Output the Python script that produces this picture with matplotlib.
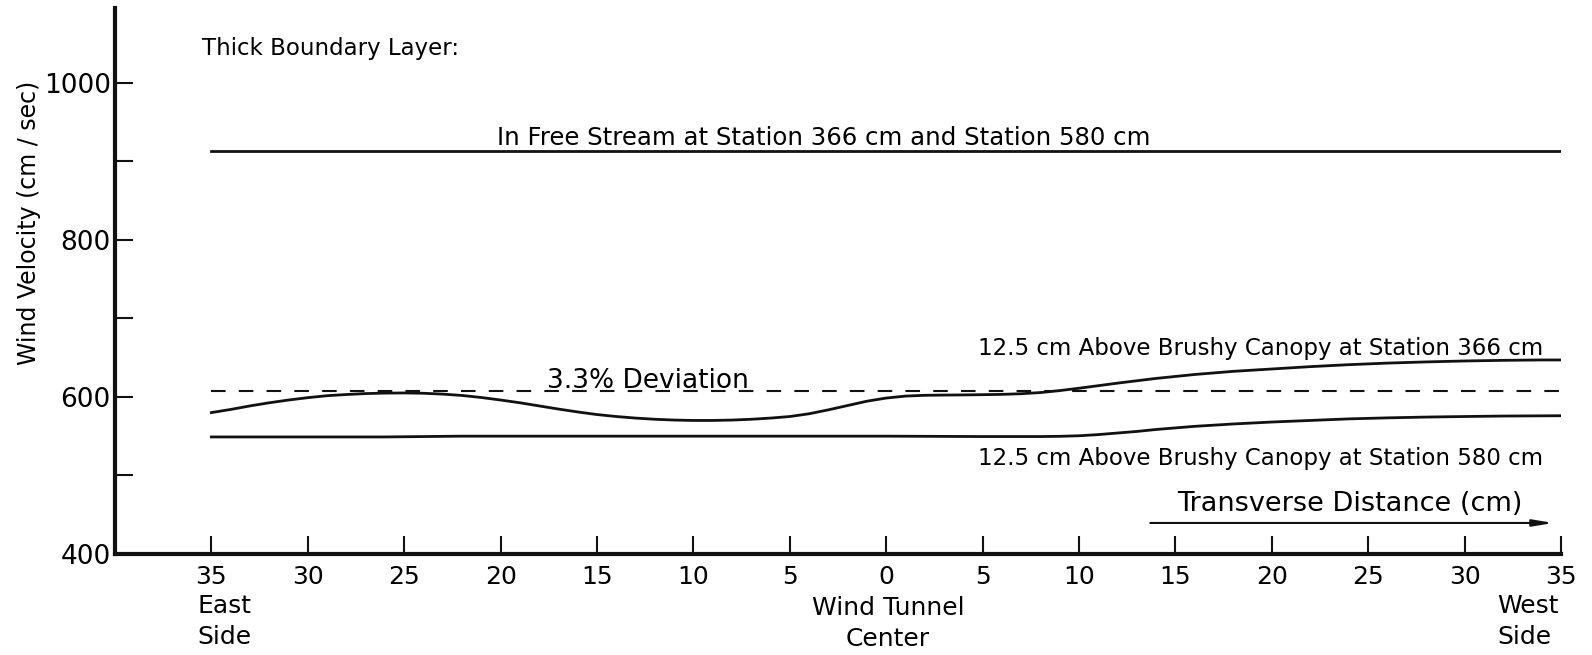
import numpy as np
import matplotlib.pyplot as plt

# transverse position, cm (east side negative, west side positive)
x_upper = [-35, -34, -33, -32, -31, -30, -29, -28, -27, -26, -25, -24, -23,
           -22, -21, -20, -19, -18, -17, -16, -15, -14, -13, -12, -11, -10,
           -9, -8, -7, -6, -5, -4, -3, -2, -1, 0, 1, 2, 3, 4, 5, 6, 7, 8, 9,
           10, 12, 14, 16, 18, 20, 22, 24, 26, 28, 30, 32, 34, 35]
# 12.5 cm above brushy canopy, station 366 cm
v_upper = [580, 584, 588.5, 592.5, 596, 599, 601.5, 603, 604.2, 604.8, 605,
           604.6, 603.5, 601.8, 599.2, 596, 592.5, 588.5, 584.5, 580.8, 577.5,
           575, 573, 571.5, 570.5, 570, 570, 570.5, 571.5, 573, 575, 578.5,
           583.5, 589, 594.5, 598.5, 601, 602, 602.3, 602.5, 602.8, 603.2,
           604, 605.5, 608, 611, 617.5, 623.5, 628.5, 632.5, 635.5, 638.5,
           641, 643, 644.5, 645.7, 646.5, 647, 647]

x_lower = [-35, -30, -26, -24, -22, -15, -5, 0, 5, 8, 9, 10, 11, 12, 13, 14,
           15, 16, 18, 20, 22, 24, 26, 28, 30, 32, 35]
# 12.5 cm above brushy canopy, station 580 cm
v_lower = [549, 549, 549, 549.5, 550, 550, 550, 550, 549.5, 549.5, 549.8,
           550.5, 552, 554, 556, 558.5, 560.5, 562.5, 565.5, 568, 570, 572,
           573.3, 574.3, 575, 575.6, 576]

x_free = [-35, 35]
v_free = [913, 913]

x_dev = [-35, 35]
v_dev = [607, 607]

xticks = list(range(-35, 36, 5))
xticklabels = [str(abs(t)) for t in xticks]
yticks = [400, 500, 600, 700, 800, 900, 1000]
yticklabels = ['400', '', '600', '', '800', '', '1000']

plt.rcParams['font.family'] = 'DejaVu Sans'
plt.rcParams['lines.scale_dashes'] = False

fig = plt.figure(figsize=(15.92, 6.55), dpi=100)
ax = fig.add_axes([115 / 1592, 1 - 554 / 655, (1561 - 115) / 1592, (554 - 8) / 655])

ink = '#111111'
ax.plot(x_free, v_free, color=ink, lw=2)
ax.plot(x_dev, v_dev, color=ink, lw=1.5, dashes=(10.5, 9.5))
ax.plot(x_upper, v_upper, color=ink, lw=2)
ax.plot(x_lower, v_lower, color=ink, lw=2)

ax.set_xlim(-40, 35)
ax.set_ylim(400, 1095)

for s in ['top', 'right']:
    ax.spines[s].set_visible(False)
for s in ['left', 'bottom']:
    ax.spines[s].set_linewidth(3)
    ax.spines[s].set_color(ink)

ax.set_xticks(xticks)
ax.set_xticklabels(xticklabels)
ax.set_yticks(yticks)
ax.set_yticklabels(yticklabels)
ax.tick_params(axis='x', direction='in', length=13, width=1.5, color=ink,
               labelsize=18, pad=8)
ax.tick_params(axis='y', direction='in', length=13, width=1.5, color=ink,
               labelsize=19, pad=3)

# line labels
ax.text(-35.5, 1035, 'Thick Boundary Layer:', fontsize=16.5, va='baseline')
ax.text(-20.2, 921, 'In Free Stream at Station 366 cm and Station 580 cm',
        fontsize=17.6, va='baseline')
ax.text(-17.6, 611, '3.3% Deviation', fontsize=19, va='baseline')
ax.text(4.75, 653, '12.5 cm Above Brushy Canopy at Station 366 cm',
        fontsize=16.5, va='baseline')
ax.text(4.75, 513, '12.5 cm Above Brushy Canopy at Station 580 cm',
        fontsize=16.5, va='baseline')
ax.text(15.1, 455, 'Transverse Distance (cm)', fontsize=19.5, va='baseline')
ax.annotate('', xy=(34.6, 439.5), xytext=(13.7, 439.5),
            arrowprops=dict(arrowstyle='-|>,head_length=1.2,head_width=0.2',
                            lw=1.5, color=ink, shrinkA=0, shrinkB=0))

# side / centre captions under the axis
fig.text(197 / 1592, 1 - 594 / 655, 'East\nSide', fontsize=18, va='top',
         linespacing=1.35)
fig.text(888 / 1592, 1 - 596 / 655, 'Wind Tunnel\nCenter', fontsize=18,
         va='top', ha='center', multialignment='center', linespacing=1.35)
fig.text(1497 / 1592, 1 - 594 / 655, 'West\nSide', fontsize=18, va='top',
         linespacing=1.35)

fig.text(29 / 1592, 1 - 223 / 655, 'Wind Velocity (cm / sec)', fontsize=17,
         rotation=90, ha='center', va='center')

fig.savefig('out.png', dpi=100)
